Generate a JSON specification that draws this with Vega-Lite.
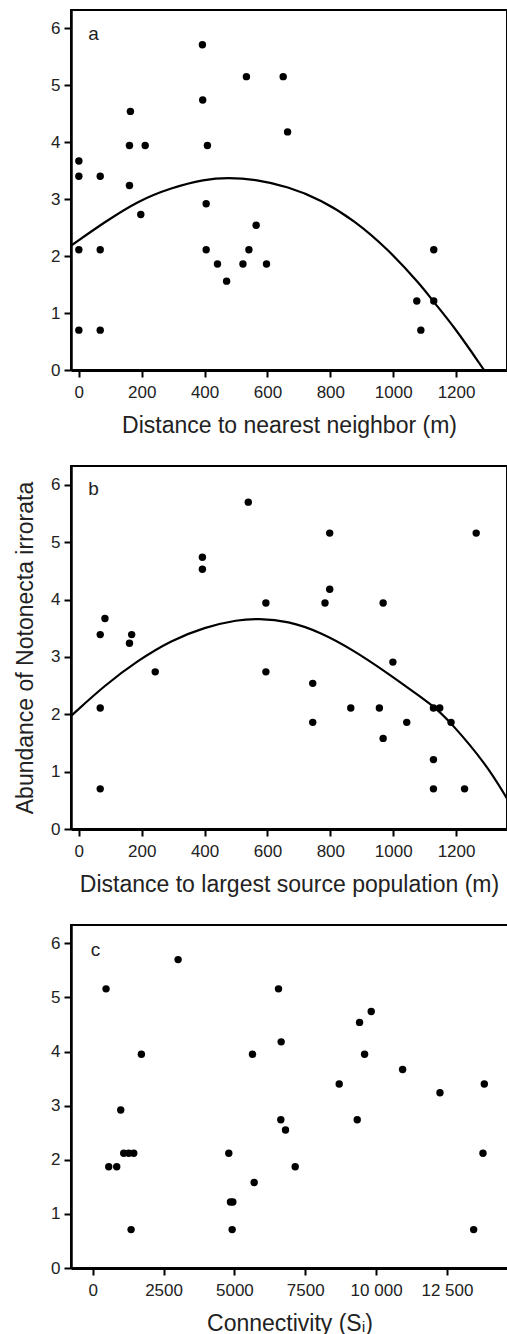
{
  "$schema": "https://vega.github.io/schema/vega-lite/v6.json",
  "background": "white",
  "padding": {"left": 13, "top": 9, "right": 0, "bottom": 0},
  "spacing": 27,
  "config": {
    "font": "Liberation Sans",
    "view": {"stroke": "black", "strokeWidth": 2},
    "axis": {
      "grid": false,
      "domainColor": "black",
      "domainWidth": 2.5,
      "tickColor": "black",
      "tickWidth": 2,
      "tickSize": 7,
      "labelColor": "#222",
      "labelFontSize": 17,
      "labelPadding": 4,
      "titleFontSize": 23,
      "titleFontWeight": "normal",
      "titleColor": "#222"
    },
    "axisX": {"labelPadding": 7, "titlePadding": 14, "domainWidth": 3},
    "axisY": {"titlePadding": 13}
  },
  "datasets": {
    "a_points": [
      {"distance": 0, "abundance": 3.67}, {"distance": 0, "abundance": 3.40}, {"distance": 0, "abundance": 2.11}, {"distance": 0, "abundance": 0.70},
      {"distance": 68, "abundance": 3.40}, {"distance": 68, "abundance": 2.11}, {"distance": 68, "abundance": 0.70},
      {"distance": 164, "abundance": 4.54}, {"distance": 161, "abundance": 3.94}, {"distance": 161, "abundance": 3.24},
      {"distance": 211, "abundance": 3.94}, {"distance": 197, "abundance": 2.73},
      {"distance": 393, "abundance": 5.71}, {"distance": 394, "abundance": 4.74}, {"distance": 409, "abundance": 3.94},
      {"distance": 405, "abundance": 2.92}, {"distance": 405, "abundance": 2.11}, {"distance": 441, "abundance": 1.86},
      {"distance": 470, "abundance": 1.56}, {"distance": 522, "abundance": 1.86}, {"distance": 533, "abundance": 5.15},
      {"distance": 541, "abundance": 2.11}, {"distance": 564, "abundance": 2.54}, {"distance": 597, "abundance": 1.86},
      {"distance": 650, "abundance": 5.15}, {"distance": 664, "abundance": 4.18},
      {"distance": 1075, "abundance": 1.21}, {"distance": 1088, "abundance": 0.70},
      {"distance": 1129, "abundance": 2.11}, {"distance": 1129, "abundance": 1.21}
    ],
    "a_curve": [
      {"distance": -23, "abundance": 2.19}, {"distance": 83, "abundance": 2.60}, {"distance": 188, "abundance": 2.97},
      {"distance": 294, "abundance": 3.20}, {"distance": 400, "abundance": 3.35}, {"distance": 474, "abundance": 3.38},
      {"distance": 559, "abundance": 3.35}, {"distance": 665, "abundance": 3.22}, {"distance": 770, "abundance": 2.99},
      {"distance": 876, "abundance": 2.63}, {"distance": 982, "abundance": 2.13}, {"distance": 1088, "abundance": 1.49},
      {"distance": 1128, "abundance": 1.20}, {"distance": 1194, "abundance": 0.76}, {"distance": 1289, "abundance": 0}
    ],
    "b_points": [
      {"distance": 68, "abundance": 3.39}, {"distance": 83, "abundance": 3.67}, {"distance": 68, "abundance": 2.11}, {"distance": 68, "abundance": 0.70},
      {"distance": 161, "abundance": 3.24}, {"distance": 168, "abundance": 3.39}, {"distance": 243, "abundance": 2.74},
      {"distance": 393, "abundance": 4.74}, {"distance": 393, "abundance": 4.53}, {"distance": 539, "abundance": 5.70},
      {"distance": 595, "abundance": 3.94}, {"distance": 595, "abundance": 2.74}, {"distance": 744, "abundance": 2.54},
      {"distance": 744, "abundance": 1.86}, {"distance": 783, "abundance": 3.94}, {"distance": 798, "abundance": 5.16},
      {"distance": 798, "abundance": 4.18}, {"distance": 865, "abundance": 2.11}, {"distance": 956, "abundance": 2.11},
      {"distance": 968, "abundance": 3.94}, {"distance": 968, "abundance": 1.58}, {"distance": 999, "abundance": 2.91},
      {"distance": 1043, "abundance": 1.86}, {"distance": 1128, "abundance": 2.11}, {"distance": 1148, "abundance": 2.11},
      {"distance": 1128, "abundance": 1.21}, {"distance": 1128, "abundance": 0.70}, {"distance": 1184, "abundance": 1.86},
      {"distance": 1227, "abundance": 0.70}, {"distance": 1264, "abundance": 5.16}
    ],
    "b_curve": [
      {"distance": -23, "abundance": 1.98}, {"distance": 83, "abundance": 2.51}, {"distance": 188, "abundance": 2.94},
      {"distance": 294, "abundance": 3.29}, {"distance": 400, "abundance": 3.52}, {"distance": 506, "abundance": 3.65},
      {"distance": 569, "abundance": 3.67}, {"distance": 665, "abundance": 3.63}, {"distance": 770, "abundance": 3.43},
      {"distance": 876, "abundance": 3.11}, {"distance": 982, "abundance": 2.72}, {"distance": 1088, "abundance": 2.30},
      {"distance": 1135, "abundance": 2.11}, {"distance": 1183, "abundance": 1.86}, {"distance": 1299, "abundance": 1.11},
      {"distance": 1363, "abundance": 0.52}
    ],
    "c_points": [
      {"connectivity": 471, "abundance": 5.16}, {"connectivity": 3013, "abundance": 5.70}, {"connectivity": 565, "abundance": 1.87},
      {"connectivity": 847, "abundance": 1.87}, {"connectivity": 989, "abundance": 2.92}, {"connectivity": 1095, "abundance": 2.12},
      {"connectivity": 1271, "abundance": 2.12}, {"connectivity": 1448, "abundance": 2.12}, {"connectivity": 1354, "abundance": 0.71},
      {"connectivity": 1718, "abundance": 3.95}, {"connectivity": 4802, "abundance": 2.12}, {"connectivity": 4861, "abundance": 1.22},
      {"connectivity": 4944, "abundance": 1.22}, {"connectivity": 4920, "abundance": 0.71}, {"connectivity": 5638, "abundance": 3.95},
      {"connectivity": 5697, "abundance": 1.58}, {"connectivity": 6556, "abundance": 5.16}, {"connectivity": 6650, "abundance": 4.18},
      {"connectivity": 6638, "abundance": 2.74}, {"connectivity": 6803, "abundance": 2.55}, {"connectivity": 7145, "abundance": 1.87},
      {"connectivity": 8698, "abundance": 3.40}, {"connectivity": 9334, "abundance": 2.74}, {"connectivity": 9416, "abundance": 4.54},
      {"connectivity": 9593, "abundance": 3.95}, {"connectivity": 9828, "abundance": 4.74}, {"connectivity": 10935, "abundance": 3.67},
      {"connectivity": 12253, "abundance": 3.24}, {"connectivity": 13442, "abundance": 0.71}, {"connectivity": 13818, "abundance": 3.40},
      {"connectivity": 13771, "abundance": 2.12}
    ]
  },
  "vconcat": [
    {
      "width": 436,
      "height": 360,
      "layer": [
        {
          "data": {"name": "a_points"},
          "mark": {"type": "circle", "size": 55, "color": "black", "opacity": 1},
          "encoding": {
            "x": {"field": "distance", "type": "quantitative", "scale": {"domain": [-25, 1362], "nice": false, "zero": false},
                  "axis": {"values": [0, 200, 400, 600, 800, 1000, 1200], "format": "d", "title": "Distance to nearest neighbor (m)"}},
            "y": {"field": "abundance", "type": "quantitative", "scale": {"domain": [0, 6.32], "nice": false},
                  "axis": {"values": [0, 1, 2, 3, 4, 5, 6], "format": "d", "title": null}}
          }
        },
        {
          "data": {"name": "a_curve"},
          "mark": {"type": "line", "color": "black", "strokeWidth": 2.2, "interpolate": "basis", "clip": true},
          "encoding": {
            "x": {"field": "distance", "type": "quantitative"},
            "y": {"field": "abundance", "type": "quantitative"}
          }
        },
        {
          "data": {"values": [{"label": "a"}]},
          "mark": {"type": "text", "align": "left", "baseline": "alphabetic", "fontSize": 19, "color": "#222"},
          "encoding": {"x": {"datum": 30}, "y": {"datum": 5.8}, "text": {"field": "label"}}
        }
      ]
    },
    {
      "width": 436,
      "height": 363,
      "layer": [
        {
          "data": {"name": "b_points"},
          "mark": {"type": "circle", "size": 55, "color": "black", "opacity": 1},
          "encoding": {
            "x": {"field": "distance", "type": "quantitative", "scale": {"domain": [-25, 1362], "nice": false, "zero": false},
                  "axis": {"values": [0, 200, 400, 600, 800, 1000, 1200], "format": "d", "title": "Distance to largest source population (m)"}},
            "y": {"field": "abundance", "type": "quantitative", "scale": {"domain": [0, 6.33], "nice": false},
                  "axis": {"values": [0, 1, 2, 3, 4, 5, 6], "format": "d", "title": "Abundance of Notonecta irrorata"}}
          }
        },
        {
          "data": {"name": "b_curve"},
          "mark": {"type": "line", "color": "black", "strokeWidth": 2.2, "interpolate": "basis", "clip": true},
          "encoding": {
            "x": {"field": "distance", "type": "quantitative"},
            "y": {"field": "abundance", "type": "quantitative"}
          }
        },
        {
          "data": {"values": [{"label": "b"}]},
          "mark": {"type": "text", "align": "left", "baseline": "alphabetic", "fontSize": 19, "color": "#222"},
          "encoding": {"x": {"datum": 30}, "y": {"datum": 5.82}, "text": {"field": "label"}}
        }
      ]
    },
    {
      "width": 437,
      "height": 343,
      "layer": [
        {
          "data": {"name": "c_points"},
          "mark": {"type": "circle", "size": 55, "color": "black", "opacity": 1},
          "encoding": {
            "x": {"field": "connectivity", "type": "quantitative", "scale": {"domain": [-766, 14654], "nice": false, "zero": false},
                  "axis": {"values": [0, 2500, 5000, 7500, 10000, 12500], "title": "Connectivity (Sᵢ)",
                           "labelExpr": "datum.value >= 10000 ? replace(format(datum.value, ','), ',', ' ') : format(datum.value, 'd')"}},
            "y": {"field": "abundance", "type": "quantitative", "scale": {"domain": [0, 6.34], "nice": false},
                  "axis": {"values": [0, 1, 2, 3, 4, 5, 6], "format": "d", "title": null}}
          }
        },
        {
          "data": {"values": [{"label": "c"}]},
          "mark": {"type": "text", "align": "left", "baseline": "alphabetic", "fontSize": 19, "color": "#222"},
          "encoding": {"x": {"datum": -70}, "y": {"datum": 5.77}, "text": {"field": "label"}}
        }
      ]
    }
  ]
}
